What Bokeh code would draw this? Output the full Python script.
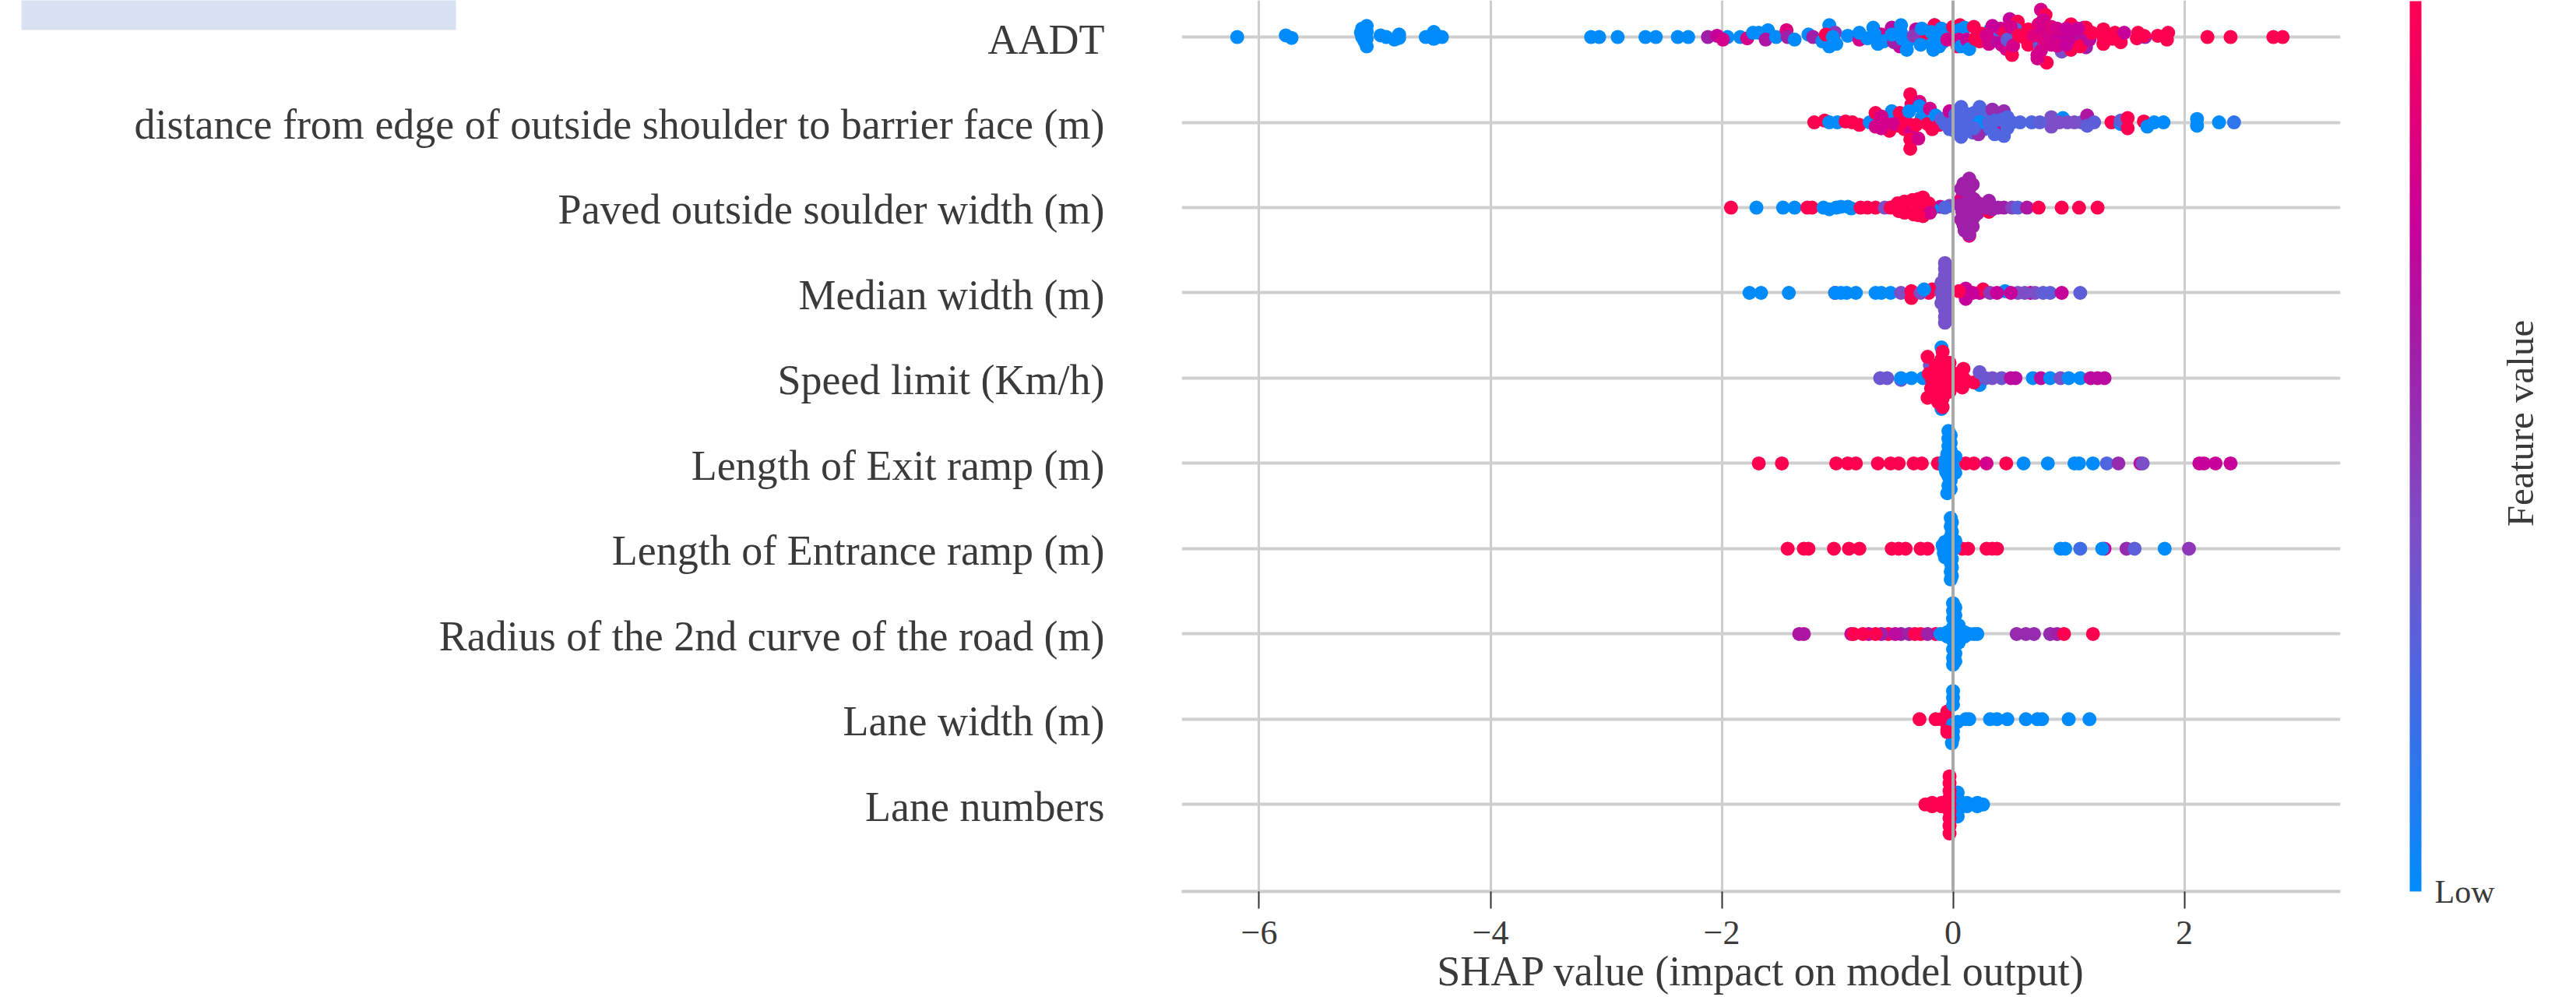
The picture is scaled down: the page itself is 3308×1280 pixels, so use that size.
from bokeh.embed import file_html
from bokeh.resources import INLINE
from bokeh.plotting import figure
from bokeh.models import (ColorBar, FixedTicker, LinearAxis, Range1d,
                          LinearColorMapper, Span, ColumnDataSource)

features = ["Lane numbers", "Lane width (m)", "Radius of the 2nd curve of the road (m)",
            "Length of Entrance ramp (m)", "Length of Exit ramp (m)", "Speed limit (Km/h)",
            "Median width (m)", "Paved outside soulder width (m)",
            "distance from edge of outside shoulder to barrier face (m)", "AADT"]
x_ticks = [-6, -4, -2, 0, 2]
x_tick_labels = {-6: "\u22126", -4: "\u22124", -2: "\u22122", 0: "0", 2: "2"}

# each entry: SHAP value, swarm offset (in rows), feature value (0 low .. 1 high)
aadt = [
 (-6.19,0,0),(-5.77,.02,0),(-5.72,-.01,0),(-5.11,.10,0),(-5.11,.0,0),(-5.12,.05,0),(-5.07,.13,0),(-5.07,.06,0),
 (-5.07,-.02,0),(-5.07,-.11,0),(-5.09,-.05,0),(-4.95,.02,0),(-4.90,.0,0),(-4.83,-.03,0),(-4.79,.03,0),
 (-4.79,-.01,0),(-4.56,0,0),(-4.49,.06,0),(-4.49,-.02,0),(-4.47,.02,0),(-4.42,0,0),
 (-3.13,0,0),(-3.06,0,0),(-2.90,0,0),(-2.66,0,0),(-2.57,0,0),(-2.38,0,0),(-2.29,0,0),
 (-1.95,0,0),(-2.12,0,.6),(-2.04,.015,.75),(-1.99,-.03,.8),
 (-1.84,0,0),(-1.78,-.015,.8),(-1.73,.05,0),(-1.68,.05,0),(-1.60,.08,0),(-1.62,-.03,.65),(-1.53,0,0),
 (-1.44,.08,.85),(-1.43,0,.6),(-1.37,-.03,0),(-1.25,.03,0),(-1.21,0,.6),
 (-1.13,-.05,0),(-1.07,.14,0),(-1.07,-.11,0),(-1.01,-.08,0),(-1.02,.05,.5),(-1.10,.03,1),(-1.04,.0,0),
 (-.91,.015,0),(-.81,-.03,.8),(-.81,.05,0),(-.74,-.015,0),(-.69,.11,0),(-.65,-.08,0),(-.62,.03,.8),(-.68,.04,0),(-.60,-.05,0),
 (-.53,.11,.7),(-.46,-.11,.75),(-.51,-.06,.6),(-.53,.03,0),(-.45,.14,0),(-.45,.05,0),(-.40,-.15,0),(-.39,-.05,0),(-.44,-.02,0),
 (-.32,.09,.7),(-.34,.015,.5),(-.23,-.05,0),(-.16,.14,0),(-.17,-.15,0),(-.13,.05,0),(-.09,-.06,0),(-.23,.03,1),(-.16,.14,1),
 (-.28,-.09,0),(-.18,-.08,0),(-.19,.06,0),(-.27,.10,0),(-.10,.10,0),(-.12,-.11,0),(-.05,.03,0),(-.05,-.03,.8),
 (.0,.12,1),(.03,-.03,.8),(.04,-.11,1),(.06,.14,1),(.10,.11,0),(.05,.08,0),(.05,-.03,.8),(.07,-.11,0),
 (.12,-.03,.75),(.14,-.14,0),(.18,.12,1),(.23,-.05,1),(.32,.08,0),(.31,-.08,.8),(.37,-.03,.7),(.38,.09,.25),
 (.25,.04,1),(.19,-.02,1),(.42,-.09,.75),(.41,.10,.8),(.34,.13,.75),(.29,.02,.8),
 (.49,.21,.75),(.56,.18,1),(.46,-.14,.8),(.51,-.21,1),(.54,.09,.25),(.45,.05,1),(.47,-.03,.3),(.50,.12,.8),(.52,-.10,.8),(.57,.02,1),
 (.65,.09,1),(.65,-.09,1),(.76,.32,.8),(.80,.26,1),(.74,.15,.85),(.73,-.21,.8),(.81,-.30,1),(.75,-.09,.3),(.61,0,1),(.70,.02,.85),
 (.78,.20,.8),(.77,.08,.8),(.78,-.02,.85),(.76,-.16,.8),(.73,-.25,.8),(.83,.03,.8),
 (.85,.12,.85),(.85,-.09,.8),(.92,.03,.75),(.94,-.17,.4),(1.02,.15,1),(1.02,-.15,1),(.97,.03,.75),(.90,.10,.8),(.90,-.10,.8),(.98,.10,.75),(.98,-.09,.75),(1.05,.0,.75),
 (1.10,.03,.7),(1.13,.11,.6),(1.15,.11,1),(1.15,-.12,.6),(1.10,-.11,1),(1.18,-.03,.7),(1.08,.10,.75),(1.20,.05,1),
 (1.30,.09,1),(1.30,-.08,1),(1.40,.05,1),(1.45,-.06,1),(1.48,.05,.75),(1.60,.05,1),(1.59,-.015,1),(1.30,.0,1),(1.38,-.02,1),
 (1.66,0,.55),(1.65,.015,1),(1.77,.015,1),(1.85,-.03,1),(1.86,.05,1),(2.20,0,1),(2.40,0,1),(2.77,0,1),(2.85,0,1),
]
shoulder_barrier = [
 (-1.20,0,1),(-1.11,.02,1),(-1.07,0,0),(-1.00,0,0),(-.93,.01,1),(-.87,0,1),(-.81,-.03,1),(-.72,0,0),
 (-.67,.11,1),(-.67,-.05,.8),(-.61,.01,.8),(-.57,.05,.8),(-.55,-.10,1),(-.53,.13,0),(-.46,.11,1),(-.47,-.04,1),
 (-.62,.07,.8),(-.62,-.07,.8),(-.51,-.02,.8),(-.42,.06,1),(-.42,-.08,1),(-.40,.0,1),
 (-.37,.33,1),(-.36,.21,1),(-.29,.24,.85),(-.29,.19,0),(-.38,.13,0),(-.27,.06,0),(-.20,.16,.8),
 (-.36,-.11,.8),(-.37,-.31,1),(-.37,-.20,1),(-.30,-.19,.8),(-.18,-.08,1),(-.32,-.03,1),(-.22,-.02,1),(-.15,.08,0),
 (-.12,-.03,1),(-.10,.04,.25),(-.07,-.02,.25),
 (-.03,.13,.75),(-.03,-.08,.25),(.01,0,.25),(.07,.18,.25),(.07,-.17,.25),(.07,0,.25),(.15,.05,.25),
 (.02,.09,.25),(.03,-.12,.25),(.11,.10,.25),(.12,-.06,.25),(.18,.11,.25),(.17,-.12,.25),(.27,.08,.25),(.27,-.08,.25),
 (.23,.18,.25),(.22,-.14,.55),(.23,0,0),(.18,-.07,.25),(.34,.15,.55),(.44,.13,.55),(.38,-.11,.75),(.44,-.16,.25),
 (.38,.07,.55),(.36,.02,.25),(.42,.03,.25),(.47,.06,.25),(.47,-.07,.25),(.32,-.07,.25),(.36,-.14,.25),
 (.31,0,.25),(.51,0,.25),(.58,0,.25),(.68,0,.25),(.85,.0,.4),(.85,-.05,.4),(.85,.06,.4),(.95,.05,0),(.99,0,.4),(1.11,0,.3),
 (.75,0,.3),(.92,0,.4),(1.05,0,.4),
 (1.16,.08,.65),(1.16,-.04,.3),(1.22,0,.3),(1.37,0,1),(1.45,-.02,0),(1.45,.02,.3),(1.51,.05,1),(1.51,-.07,1),
 (1.65,.01,1),(1.68,-.05,0),(1.74,0,0),(1.82,0,0),(2.11,.04,0),(2.11,-.04,0),(2.30,0,0),(2.43,0,.15),
]
paved_width = [
 (-1.92,0,1),(-1.70,0,0),(-1.47,0,0),(-1.37,0,0),(-1.26,0,1),(-1.22,0,1),(-1.12,0,0),(-1.07,-.02,0),(-1.01,0,0),
 (-.97,.01,0),(-.91,.01,0),(-.88,-.01,0),(-.80,0,1),(-.74,0,1),(-.67,0,1),(-.59,0,.4),(-.48,.05,1),(-.47,-.04,1),
 (-.54,0,1),(-.42,.0,1),(-.42,.07,1),(-.42,-.06,1),
 (-.35,.09,1),(-.34,-.08,1),(-.26,.12,1),(-.26,-.10,1),(-.30,0,1),(-.11,.01,.75),(-.18,-.02,0),(-.03,.02,.4),
 (-.21,.05,1),(-.20,-.06,.8),(-.30,.1,1),(-.30,-.09,1),(-.07,.0,.25),
 (.14,.34,.6),(.09,.28,.6),(.14,.22,.6),(.09,.16,.6),(.14,.07,.6),(.07,.10,.85),(.08,-.05,.6),(.14,-.11,.6),
 (.09,-.20,.6),(.14,-.33,.85),(.14,-.31,.6),(.18,.10,.6),(.18,-.11,.6),(.12,0,.6),
 (.07,.22,.6),(.17,.27,.6),(.07,-.14,.6),(.17,-.22,.6),(.06,.03,.6),(.18,.02,.6),(.10,-.27,.6),(.22,.05,.6),(.21,-.07,.6),(.14,.14,.6),
 (.31,.08,.6),(.31,-.05,1),(.39,0,.6),(.28,.0,.6),(.34,-.02,.6),(.44,0,.6),(.51,0,.45),(.56,0,.3),(.64,0,.65),(.74,0,1),(.94,0,1),(1.09,0,1),(1.25,0,1),
]
median_width = [
 (-1.76,0,0),(-1.66,0,0),(-1.42,0,0),(-1.02,0,1),(-1.02,0,0),(-.92,0,0),(-.97,0,0),(-.84,0,0),(-.67,0,0),(-.62,0,0),
 (-.54,0,0),(-.45,0,.4),(-.36,.02,1),(-.36,-.06,1),(-.21,0,1),(-.18,.04,1),(-.28,0,.4),(-.25,.04,0),
 (.11,.05,.75),(.11,-.07,.75),(.23,.0,.75),(.26,.04,1),(.32,.0,.5),(.45,.02,0),(.56,0,.4),(.67,0,.75),(.71,0,.4),
 (.84,0,.3),(.94,0,.75),(1.10,0,.3),(.05,.02,1),(.17,.0,.75),(.38,0,.75),(.50,0,.75),(.62,0,.4),(.78,0,.3),
 (-.05,.0,.38),(-.10,.0,.38),(-.07,-.35,.38),(-.07,-.28,.38),(-.07,-.20,.38),(-.08,-.12,.38),(-.09,-.05,.38),
 (-.09,.05,.38),(-.08,.12,.38),(-.07,.20,.38),(-.07,.28,.38),(-.07,.35,.38),(-.05,-.08,.38),(-.05,.08,.38),
 (-.05,.16,.38),(-.05,-.16,.38),(-.10,.12,.38),(-.10,-.12,.38),(-.05,.26,.38),(-.05,-.26,.38),
]
speed_limit = [
 (-.63,0,.35),(-.57,0,.35),(-.45,-.02,.35),(-.45,.0,0),(-.36,0,0),(-.26,0,0),
 (-.10,.36,0),(-.15,-.12,.25),(-.10,-.36,0),(.23,-.08,0),(-.20,.15,.35),(-.07,.13,.25),
 (-.22,.25,1),(-.09,.31,1),(-.09,.15,1),(-.09,0,1),(-.09,-.15,1),(-.21,.05,1),(-.22,-.23,1),
 (-.03,.09,1),(-.03,-.16,1),(-.09,-.34,1),(-.15,-.05,1),(-.15,-.20,1),(-.03,-.02,1),
 (-.15,.06,1),(-.10,.22,1),(-.09,.07,1),(-.09,-.08,1),(-.09,-.24,1),(-.15,.15,1),(-.03,.18,1),(-.03,-.10,1),(-.19,-.12,1),(-.13,-.28,1),(-.18,-.03,1),
 (.02,-.02,1),(.09,.11,1),(.08,-.11,1),(.18,-.05,1),(.05,-.08,1),(.03,.05,1),(.12,-.04,1),(.09,.0,1),
 (.23,.07,.35),(.34,0,.4),(.42,0,.35),(.50,0,.7),(.54,0,.7),(.69,0,0),(.76,0,.7),(.84,0,0),(.93,0,.4),(1.0,0,0),
 (1.10,0,0),(1.19,0,.7),(1.25,0,.7),(1.31,0,.7),(.28,0,.35),
]
exit_ramp = [
 (-1.68,0,1),(-1.48,0,1),(-1.01,0,1),(-.91,0,1),(-.84,0,1),(-.65,0,1),(-.54,0,1),(-.47,0,1),(-.34,0,1),(-.27,0,1),(-.13,0,1),
 (.11,0,1),(.18,0,1),(.29,0,.8),(.46,0,1),(.61,0,0),(.82,0,0),(1.05,0,0),(1.09,0,0),(1.21,0,0),(1.33,0,.25),(1.43,0,.55),
 (1.62,0,.7),(1.64,0,.4),(2.13,0,.75),(2.17,0,.75),(2.27,0,.75),(2.40,0,.75),
 (-.04,.38,0),(-.04,.29,0),(-.04,.20,0),(-.05,.11,0),(-.07,.03,0),(-.07,-.05,0),(-.04,-.15,0),(-.04,-.26,0),(-.05,-.35,0),(.02,.08,0),(.02,-.11,0),(-.02,0,0),
 (-.02,.33,0),(-.02,.24,0),(-.02,.15,0),(-.02,-.20,0),(-.02,-.30,0),(.0,.05,0),(.0,-.05,0),(-.06,-.10,0),
]
entrance_ramp = [
 (-1.43,0,1),(-1.29,0,1),(-1.25,0,1),(-1.03,0,1),(-.90,0,1),(-.81,0,1),(-.53,0,1),(-.47,0,1),(-.41,0,1),(-.28,0,1),(-.22,0,1),
 (.13,0,1),(.08,0,1),(.29,0,1),(.34,0,1),(.38,0,1),(.93,0,0),(.97,0,0),(1.10,0,.2),(1.31,0,.75),(1.29,0,0),(1.50,0,.55),(1.57,0,.3),
 (1.83,0,0),(2.04,0,.5),
 (-.02,.36,0),(-.02,.26,0),(-.02,.14,0),(-.02,.05,0),(-.07,.08,0),(-.08,0,0),(-.07,-.10,0),(-.02,-.05,0),
 (-.02,-.17,0),(-.02,-.27,0),(-.02,-.36,0),(.01,.0,0),(-.08,-.05,0),(-.09,.04,0),(-.01,.31,0),(-.01,.20,0),(-.01,-.12,0),(-.01,-.22,0),(-.01,-.32,0),(.02,.09,0),
]
radius_curve = [
 (-1.33,0,.65),(-1.29,0,.65),(-.88,0,.75),(-.86,0,1),(-.73,0,.7),(-.56,0,1),(-.62,0,.6),(-.45,0,.6),(-.38,0,.6),(-.33,0,1),(-.28,0,1),(-.15,0,1),
 (-.50,0,.7),(-.67,0,1),(-.78,0,1),(-.22,0,.6),
 (-.11,0,0),(0,.36,0),(0,.27,0),(0,.18,0),(0,.08,0),(0,0,0),(0,-.08,0),(0,-.18,0),(0,-.28,0),(0,-.36,0),
 (.07,.0,0),(.03,-.05,0),(.03,.05,0),(-.05,.02,0),(.14,0,0),(.18,0,0),(.21,0,0),(.02,.31,0),(.02,.22,0),(.02,.13,0),(.02,-.13,0),(.02,-.23,0),(.02,-.32,0),(.05,-.10,0),(.05,.10,0),(-.05,-.03,0),(.10,.02,0),(.10,-.03,0),
 (.55,0,.55),(.63,0,.55),(.70,0,.55),(.84,0,.55),(.90,0,.6),(.96,0,1),(1.21,0,1),
]
lane_width = [
 (-.29,0,1),(-.15,0,1),(-.10,0,1),(-.05,.09,1),(-.05,-.12,1),(-.07,-.02,1),(-.05,.05,1),
 (0,.33,0),(0,.25,0),(0,.17,0),(0,-.06,0),(0,-.14,0),(0,-.22,0),(-.01,-.28,0),(.04,-.03,0),(.11,0,0),(.14,0,0),
 (-.05,-.15,1),(.32,0,0),(.38,0,0),(.47,0,0),(.63,0,0),(.73,0,0),(.77,0,0),(1.0,0,0),(1.18,0,0),
]
lane_numbers = [
 (.04,.14,0),(.05,.05,0),(.05,-.05,0),(.04,-.14,0),(.12,.02,0),(.12,-.02,0),(.21,.02,0),(.21,-.02,0),(.26,0,0),
 (-.03,.33,1),(-.03,.25,1),(-.03,.16,1),(-.03,.08,1),(-.03,0,1),(-.03,-.08,1),(-.03,-.16,1),(-.03,-.25,1),(-.03,-.34,1),
 (-.24,0,1),(-.18,.02,1),(-.18,-.02,1),(-.10,.02,1),(-.10,-.02,1),
]
rows = [lane_numbers, lane_width, radius_curve, entrance_ramp, exit_ramp,
        speed_limit, median_width, paved_width, shoulder_barrier, aadt]

stops = [(0, (0, 139, 251)), (.25, (79, 102, 224)), (.4, (124, 79, 200)), (.6, (160, 31, 168)),
         (.75, (200, 0, 154)), (1, (255, 0, 81))]

def colour(t):
    for (a, ca), (b, cb) in zip(stops, stops[1:]):
        if t <= b:
            f = (t - a) / (b - a)
            return "#%02x%02x%02x" % tuple(round(p + (q - p) * f) for p, q in zip(ca, cb))
    return "#ff0051"

xs, ys, cs = [], [], []
for i, row in enumerate(rows):
    for shap, off, feat in row:
        xs.append(shap)
        ys.append(i + off)
        cs.append(colour(feat))
source = ColumnDataSource(dict(x=xs, y=ys, c=cs))

SERIF = "Liberation Serif"
INK = "#3a3a3a"

p = figure(width=3308, height=1280, output_backend="svg", toolbar_location=None,
           x_range=(-6.67, 3.35), y_range=(-1.02, 9.43), y_axis_location=None,
           min_border_left=1517, min_border_right=303, min_border_top=0, min_border_bottom=136,
           outline_line_color=None, background_fill_color="white", border_fill_color="white")
p.styles = {"position": "absolute", "top": "0px", "left": "0px"}

p.xaxis.ticker = FixedTicker(ticks=x_ticks)
p.xaxis.major_label_overrides = x_tick_labels
p.xaxis.axis_line_color = "#cccccc"
p.xaxis.axis_line_width = 4
p.xaxis.major_tick_in = 0
p.xaxis.major_tick_out = 22
p.xaxis.major_tick_line_color = "#333333"
p.xaxis.major_tick_line_width = 2
p.xaxis.minor_tick_line_color = None
p.xaxis.major_label_text_font = SERIF
p.xaxis.major_label_text_font_size = "44px"
p.xaxis.major_label_text_color = INK
p.xaxis.major_label_standoff = 16
p.xaxis.axis_label = "SHAP value (impact on model output)"
p.xaxis.axis_label_text_font = SERIF
p.xaxis.axis_label_text_font_style = "normal"
p.xaxis.axis_label_text_font_size = "54px"
p.xaxis.axis_label_text_color = INK
p.xaxis.axis_label_standoff = 2

# the row names sit a few pixels under their lines, as in the reference
p.extra_y_ranges = {"names": Range1d(-1.02 + 0.027, 9.43 + 0.027)}
yaxis = LinearAxis(y_range_name="names", ticker=FixedTicker(ticks=list(range(len(features)))),
                   major_label_overrides={i: f for i, f in enumerate(features)},
                   axis_line_color=None, major_tick_line_color=None, minor_tick_line_color=None,
                   major_tick_in=0, major_tick_out=0, major_label_standoff=99,
                   major_label_text_font=SERIF, major_label_text_font_size="54px",
                   major_label_text_color=INK)
p.add_layout(yaxis, "left")

p.xgrid.ticker = FixedTicker(ticks=x_ticks)
p.xgrid.grid_line_color = "#cccccc"
p.xgrid.grid_line_width = 3
p.ygrid.ticker = FixedTicker(ticks=list(range(len(features))))
p.ygrid.grid_line_color = "#cfcfcf"
p.ygrid.grid_line_width = 4

p.add_layout(Span(location=0, dimension="height", line_color="#aaaaaa", line_width=4))
p.scatter("x", "y", source=source, size=18, color="c", line_color=None)

palette = [colour(i / 255) for i in range(256)]
mapper = LinearColorMapper(palette=palette, low=0, high=1)
bar = ColorBar(color_mapper=mapper, width=15, height=1143, location=(1577, 0), padding=0,
               ticker=FixedTicker(ticks=[0]), major_label_overrides={0: "Low"},
               major_tick_line_color=None, minor_tick_line_color=None,
               bar_line_color=None, border_line_color=None, background_fill_color=None,
               major_label_text_font=SERIF, major_label_text_font_size="42px",
               major_label_text_color=INK, label_standoff=17, margin=0)
p.add_layout(bar)

# the pale caption block at the upper left: a one-colour bar, which may draw outside the frame
caption_block = ColorBar(color_mapper=LinearColorMapper(palette=["#d9e2f3"], low=0, high=1),
                         width=558, height=38, location=(-1490, 1106), padding=0,
                         ticker=FixedTicker(ticks=[]), major_tick_line_color=None, minor_tick_line_color=None,
                         bar_line_color=None, border_line_color=None, background_fill_color=None,
                         major_label_text_font_size="1px", margin=0)
p.add_layout(caption_block)

# a narrow second figure, centred on the colour bar title's place, carries "Feature value"
bar_title = figure(width=100, height=400, output_backend="svg", toolbar_location=None,
                   x_range=(0, 1), y_range=(0, 1), x_axis_location=None,
                   min_border_left=0, min_border_right=0, min_border_top=0, min_border_bottom=0,
                   outline_line_color=None, background_fill_color=None, border_fill_color=None)
bar_title.styles = {"position": "absolute", "top": "343px", "left": "3205px"}
bar_title.grid.visible = False
bar_title.yaxis.ticker = FixedTicker(ticks=[])
bar_title.yaxis.axis_line_color = None
bar_title.yaxis.major_tick_line_color = None
bar_title.yaxis.minor_tick_line_color = None
bar_title.yaxis.major_tick_in = 0
bar_title.yaxis.major_tick_out = 0
bar_title.yaxis.axis_label = "Feature value"
bar_title.yaxis.axis_label_text_font = SERIF
bar_title.yaxis.axis_label_text_font_style = "normal"
bar_title.yaxis.axis_label_text_font_size = "49px"
bar_title.yaxis.axis_label_text_color = INK
bar_title.yaxis.axis_label_standoff = 0

open("out.html", "w").write(file_html([p, bar_title], INLINE))
